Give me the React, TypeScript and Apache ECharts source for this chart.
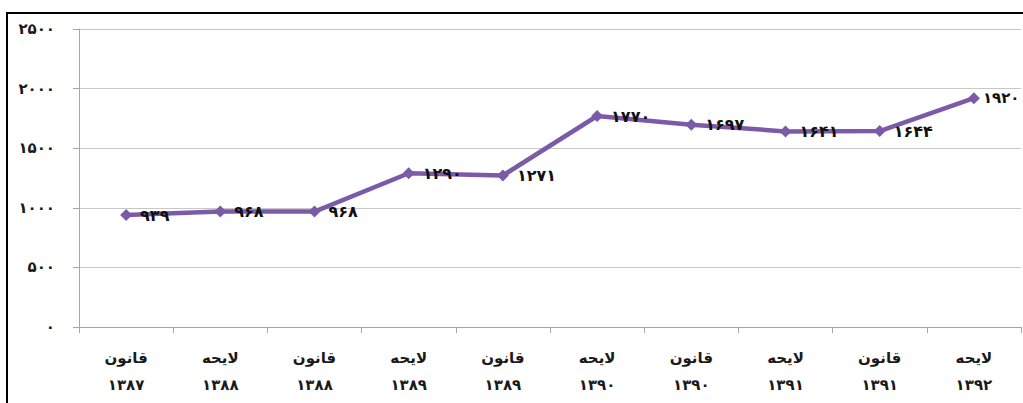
import React, { useEffect, useRef } from "react";
import * as echarts from "echarts";

const categoryTypes = ["قانون", "لایحه", "قانون", "لایحه", "قانون", "لایحه", "قانون", "لایحه", "قانون", "لایحه"];
const categoryYears = ["۱۳۸۷", "۱۳۸۸", "۱۳۸۸", "۱۳۸۹", "۱۳۸۹", "۱۳۹۰", "۱۳۹۰", "۱۳۹۱", "۱۳۹۱", "۱۳۹۲"];
const values = [939, 968, 968, 1290, 1271, 1770, 1697, 1641, 1644, 1920];
const yTicks = [0, 500, 1000, 1500, 2000, 2500];

const toFa = (n: number | string) =>
  String(n).replace(/[0-9]/g, (d) => "۰۱۲۳۴۵۶۷۸۹"[Number(d)]);

export default function App() {
  const ref = useRef<HTMLDivElement>(null);
  useEffect(() => {
    if (!ref.current) return;
    const chart = echarts.init(ref.current, undefined, { renderer: "svg" });
    const categories = categoryTypes.map((t, i) => t + "\n" + categoryYears[i]);
    const seriesData = values.map((v, i) =>
      i === values.length - 1
        ? { value: v, label: { distance: 3, fontSize: 15 } }
        : { value: v }
    );
    chart.setOption({
      animation: false,
      backgroundColor: "#ffffff",
      grid: { left: 79, right: 2, top: 29, bottom: 76 },
      graphic: [
        {
          type: "rect",
          shape: { x: 7, y: 13, width: 1030, height: 400 },
          style: { fill: "none", stroke: "#000000", lineWidth: 2 },
          silent: true,
          z: 100,
        },
      ],
      xAxis: {
        type: "category",
        data: categories,
        boundaryGap: true,
        axisLine: { show: true, lineStyle: { color: "#a6a6a6", width: 1 } },
        axisTick: { show: true, length: 6, lineStyle: { color: "#a6a6a6" } },
        axisLabel: {
          margin: 17,
          fontFamily: "DejaVu Sans",
          fontWeight: "bold",
          fontSize: 15,
          lineHeight: 27,
          color: "#1a1a1a",
        },
      },
      yAxis: {
        type: "value",
        min: 0,
        max: 2500,
        interval: 500,
        axisLine: { show: true, lineStyle: { color: "#a6a6a6", width: 1 } },
        axisTick: { show: true, length: 6, lineStyle: { color: "#a6a6a6" } },
        splitLine: { show: true, lineStyle: { color: "#c8c8c8", width: 1 } },
        axisLabel: {
          margin: 24,
          fontFamily: "DejaVu Sans",
          fontWeight: "bold",
          fontSize: 15,
          color: "#1a1a1a",
          formatter: (v: number) => (yTicks.includes(v) ? toFa(v) : ""),
        },
      },
      series: [
        {
          type: "line",
          data: seriesData,
          symbol: "diamond",
          symbolSize: 12,
          lineStyle: { color: "#7b5aa8", width: 4.5 },
          itemStyle: { color: "#7b5aa8" },
          label: {
            show: true,
            position: "right",
            distance: 8,
            fontFamily: "DejaVu Sans",
            fontWeight: "bold",
            fontSize: 16,
            color: "#111111",
            formatter: (p: any) => toFa(p.value),
          },
        },
      ],
    });
    return () => chart.dispose();
  }, []);
  return (
    <div
      ref={ref}
      style={{ position: "absolute", left: 0, top: 0, width: 1023, height: 403 }}
    />
  );
}
